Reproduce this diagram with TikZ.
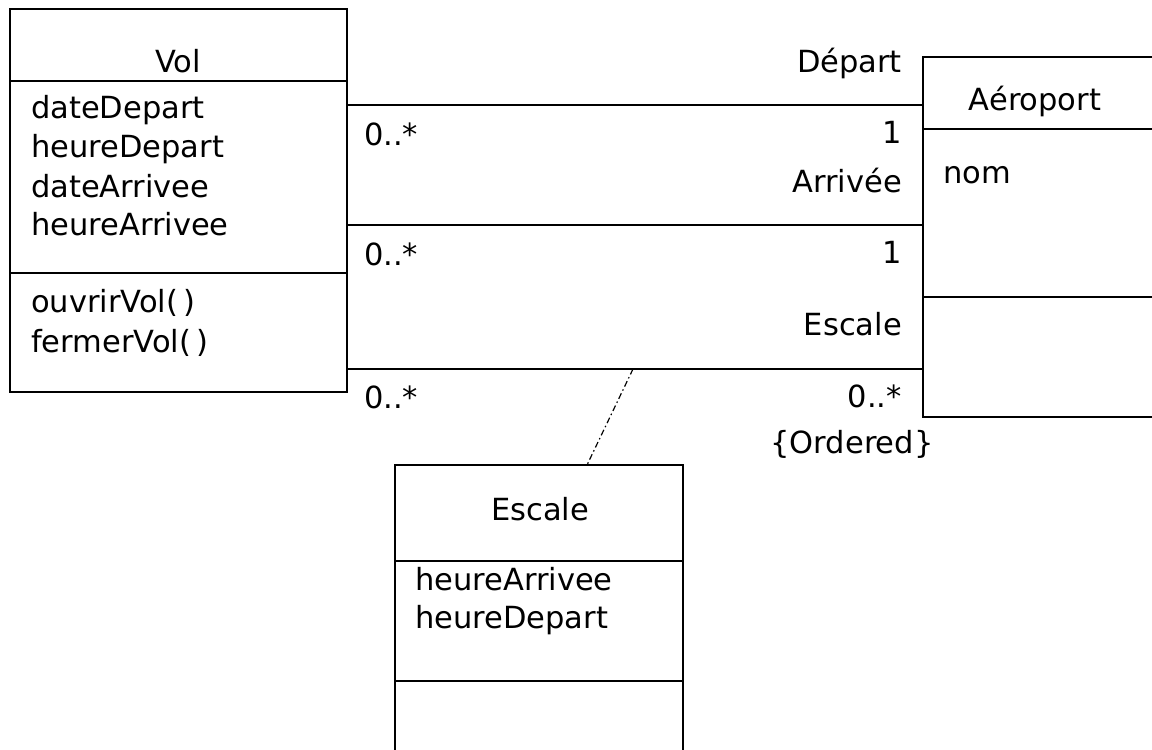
\documentclass[tikz,border=0pt]{standalone}
\usepackage{fontspec}
\setmainfont{DejaVu Sans}
\begin{document}
\begin{tikzpicture}[x=1pt,y=-1pt,
  umlbox/.style={draw,line width=1.3pt,anchor=north west,inner sep=0pt,outer sep=0pt},
  sep/.style={line width=1.3pt},
  assoc/.style={line width=1.3pt},
  txt/.style={font=\fontsize{30.5}{36}\selectfont,inner sep=0pt},
  lbl/.style={txt,anchor=base west},
  rlbl/.style={txt,anchor=base east},
  clbl/.style={txt,anchor=base},
  link/.style={line width=1.2pt,dash pattern=on 6pt off 3pt on 1.5pt off 3pt}]
\useasboundingbox[fill=white] (0,0) rectangle (1152,750);
% boxes
\node[umlbox,minimum width=337pt,minimum height=383pt] (vol) at (10,9) {};
\node[umlbox,minimum width=240pt,minimum height=360pt] (aer) at (923,57) {};
\node[umlbox,minimum width=288pt,minimum height=300pt] (esc) at (395,465) {};
% separators
\draw[sep] (vol.west |- 0,81) -- (vol.east |- 0,81);
\draw[sep] (vol.west |- 0,273) -- (vol.east |- 0,273);
\draw[sep] (aer.west |- 0,129) -- (aer.east |- 0,129);
\draw[sep] (aer.west |- 0,297) -- (aer.east |- 0,297);
\draw[sep] (esc.west |- 0,561) -- (esc.east |- 0,561);
\draw[sep] (esc.west |- 0,681) -- (esc.east |- 0,681);
% Vol texts
\node[clbl] (voltitle) at (178,72) {Vol};
\node[lbl] (a1) at (31,118) {dateDepart};
\node[lbl] (a2) at (31,157) {heureDepart};
\node[lbl] (a3) at (31,197) {dateArrivee};
\node[lbl] (a4) at (31,235) {heureArrivee};
\node[lbl] (o1) at (31,312) {ouvrirVol(\,)};
\node[lbl] (o2) at (31,352) {fermerVol(\,)};
% Aeroport texts
\node[clbl] (aertitle) at (1035,110) {Aéroport};
\node[lbl] (nom) at (943,183) {nom};
% Escale texts
\node[clbl] (esctitle) at (540,520) {Escale};
\node[lbl] (e1) at (415,590) {heureArrivee};
\node[lbl] (e2) at (415,628) {heureDepart};
% associations
\draw[assoc] (vol.east |- 0,105) -- (aer.west |- 0,105);
\draw[assoc] (vol.east |- 0,225) -- (aer.west |- 0,225);
\draw[assoc] (vol.east |- 0,369) coordinate (escl) -- (aer.west |- 0,369) coordinate (escr);
\coordinate (mid) at (633,369);
\draw[link] (mid) -- (esc.north west -| 587,0);
% labels
\node[rlbl] (ldep) at (902,72) {Départ};
\node[lbl] (m1) at (364,145) {0..*};
\node[rlbl] (m2) at (902,143) {1};
\node[rlbl] (larr) at (902,192) {Arrivée};
\node[lbl] (m3) at (364,265) {0..*};
\node[rlbl] (m4) at (902,263) {1};
\node[rlbl] (lesc) at (902,335) {Escale};
\node[lbl] (m5) at (364,408) {0..*};
\node[rlbl] (m6) at (902,407) {0..*};
\node[clbl] (ord) at (852,453) {\{Ordered\}};
\end{tikzpicture}
\end{document}
